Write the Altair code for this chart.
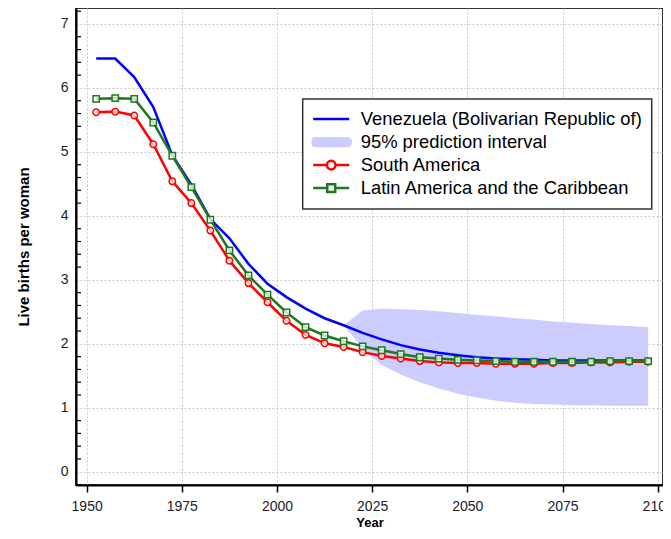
import altair as alt
import pandas as pd

# ---- data ----
years = [1952.5, 1957.5, 1962.5, 1967.5, 1972.5, 1977.5, 1982.5, 1987.5, 1992.5, 1997.5,
         2002.5, 2007.5, 2012.5, 2017.5, 2022.5, 2027.5, 2032.5, 2037.5, 2042.5, 2047.5,
         2052.5, 2057.5, 2062.5, 2067.5, 2072.5, 2077.5, 2082.5, 2087.5, 2092.5, 2097.5]

venezuela = [6.46, 6.46, 6.17, 5.70, 4.95, 4.49, 3.95, 3.65, 3.25, 2.94,
             2.73, 2.55, 2.40, 2.29, 2.17, 2.07, 1.98, 1.91, 1.86, 1.82,
             1.79, 1.77, 1.76, 1.75, 1.74, 1.74, 1.74, 1.74, 1.74, 1.74]

south_america = [5.62, 5.63, 5.57, 5.12, 4.54, 4.20, 3.77, 3.30, 2.95, 2.65,
                 2.36, 2.14, 2.01, 1.95, 1.87, 1.81, 1.77, 1.73, 1.71, 1.70,
                 1.70, 1.69, 1.69, 1.69, 1.70, 1.70, 1.71, 1.71, 1.72, 1.72]

latin_america = [5.83, 5.84, 5.83, 5.46, 4.94, 4.45, 3.94, 3.46, 3.07, 2.77,
                 2.49, 2.26, 2.13, 2.04, 1.96, 1.90, 1.84, 1.79, 1.77, 1.75,
                 1.74, 1.73, 1.72, 1.72, 1.72, 1.72, 1.72, 1.73, 1.73, 1.73]

band_years = [2017.5, 2022.5, 2027.5, 2032.5, 2037.5, 2042.5, 2047.5, 2052.5, 2057.5,
              2062.5, 2067.5, 2072.5, 2077.5, 2082.5, 2087.5, 2092.5, 2097.5]
band_upper = [2.29, 2.52, 2.55, 2.54, 2.53, 2.51, 2.48, 2.45, 2.43,
              2.40, 2.38, 2.35, 2.33, 2.31, 2.29, 2.28, 2.26]
band_lower = [2.29, 1.93, 1.67, 1.52, 1.40, 1.30, 1.22, 1.16, 1.11,
              1.08, 1.06, 1.05, 1.04, 1.04, 1.03, 1.03, 1.03]

x_ticks = [1950, 1975, 2000, 2025, 2050, 2075, 2100]
y_ticks = [0, 1, 2, 3, 4, 5, 6, 7]
y_minor = [-0.2, 0.2, 0.4, 0.6, 0.8, 1.2, 1.4, 1.6, 1.8, 2.2, 2.4, 2.6, 2.8,
           3.2, 3.4, 3.6, 3.8, 4.2, 4.4, 4.6, 4.8, 5.2, 5.4, 5.6, 5.8,
           6.2, 6.4, 6.6, 6.8, 7.2]

series_names = ["Venezuela (Bolivarian Republic of)", "95% prediction interval",
                "South America", "Latin America and the Caribbean"]

BLUE = "#0000ff"
LAV = "#ccccff"
RED = "#ff0000"
GREEN = "#1b7a1b"
FONT = "Liberation Sans"

main = pd.DataFrame({"year": years, "ven": venezuela, "sa": south_america, "lac": latin_america})
band = pd.DataFrame({"year": band_years, "lower": band_lower, "upper": band_upper})
minor = pd.DataFrame({"v": y_minor})
leg = pd.DataFrame({"series": series_names})

xscale = alt.Scale(domain=[1947.2, 2101.4], nice=False, zero=False)
yscale = alt.Scale(domain=[-0.207, 7.25], nice=False, zero=False)

xaxis = alt.Axis(values=x_ticks, format="d", title="Year", tickSize=7, tickWidth=1.5,
                 tickColor="black", labelPadding=7, titleY=31, titleBaseline="top",
                 titleFontSize=13, titleFontWeight="bold")
yaxis = alt.Axis(values=y_ticks, format="d", title="Live births per woman", ticks=False,
                 tickSize=0, labelPadding=8, titleX=-45, titleY=238.5, titleAngle=270,
                 titleBaseline="bottom", titleAlign="center", titleFontSize=15,
                 titleFontWeight="bold")


def X():
    return alt.X("year:Q", scale=xscale, axis=xaxis)


def Y(field):
    return alt.Y(f"{field}:Q", scale=yscale, axis=yaxis)


band_layer = alt.Chart(band).mark_area(color=LAV, opacity=1).encode(
    x=X(), y=Y("lower"), y2="upper")

ven_line = alt.Chart(main).mark_line(color=BLUE, strokeWidth=2.5).encode(x=X(), y=Y("ven"))
sa_line = alt.Chart(main).mark_line(color=RED, strokeWidth=2.5).encode(x=X(), y=Y("sa"))
sa_pts = alt.Chart(main).mark_point(shape="circle", size=42, stroke=RED, strokeWidth=1.5,
                                    fill="white", fillOpacity=0.75, opacity=1).encode(
    x=X(), y=Y("sa"))
lac_line = alt.Chart(main).mark_line(color=GREEN, strokeWidth=2.5).encode(x=X(), y=Y("lac"))
lac_pts = alt.Chart(main).mark_point(shape="square", size=40, stroke=GREEN, strokeWidth=1.5,
                                     fill="white", fillOpacity=0.75, opacity=1).encode(
    x=X(), y=Y("lac"))

minor_ticks = alt.Chart(minor).mark_rule(color="black", strokeWidth=1.2).encode(
    y=alt.Y("v:Q", scale=yscale, axis=yaxis), x=alt.value(0), x2=alt.value(5))

# legend symbols (custom SVG paths, unit box [-1, 1])
paths = [
    "M-1,0H1",
    "M-0.88,-0.22H0.88A0.22,0.22,0,0,1,0.88,0.22H-0.88A0.22,0.22,0,0,1,-0.88,-0.22Z",
    "M-1,0H-0.24M0.24,0H1M0.24,0A0.24,0.24,0,1,1,-0.24,0A0.24,0.24,0,1,1,0.24,0Z",
    "M-1,0H-0.22M0.22,0H1M-0.22,-0.22H0.22V0.22H-0.22Z",
]
strokes = [BLUE, LAV, RED, GREEN]
fills = ["white", LAV, "white", "white"]

legend_def = alt.Legend(title=None, orient="none", legendX=226.7, legendY=91.0, padding=9,
                        strokeColor="#333333", fillColor="white", labelFontSize=18.4,
                        labelFont=FONT, labelColor="black", symbolSize=1296, clipHeight=22.2,
                        rowPadding=0, labelOffset=10, symbolStrokeWidth=2.5, labelLimit=500)

legend_layer = alt.Chart(leg).transform_filter("false").mark_point(
    filled=True, opacity=1, strokeWidth=2.5).encode(
    stroke=alt.Stroke("series:N", scale=alt.Scale(domain=series_names, range=strokes),
                      legend=legend_def, sort=series_names),
    fill=alt.Fill("series:N", scale=alt.Scale(domain=series_names, range=fills),
                  legend=legend_def, sort=series_names),
    shape=alt.Shape("series:N", scale=alt.Scale(domain=series_names, range=paths),
                    legend=legend_def, sort=series_names),
)

chart = alt.layer(
    band_layer, ven_line, sa_line, sa_pts, lac_line, lac_pts, minor_ticks, legend_layer
).properties(
    width=587, height=477,
    autosize=alt.AutoSizeParams(type="none"),
    padding={"left": 68, "top": 0, "right": 0, "bottom": 46},
).configure_view(
    stroke="#333333", strokeWidth=2
).configure_axis(
    labelFont=FONT, titleFont=FONT, labelFontSize=14, labelColor="#222222",
    titleColor="black", domainColor="black", domainWidth=2,
    grid=True, gridColor="#c8c8c8", gridDash=[2, 2], gridWidth=1,
).configure_legend(strokeWidth=1.5)

chart.save("out.html", embed_options={"renderer": "svg", "actions": False})
